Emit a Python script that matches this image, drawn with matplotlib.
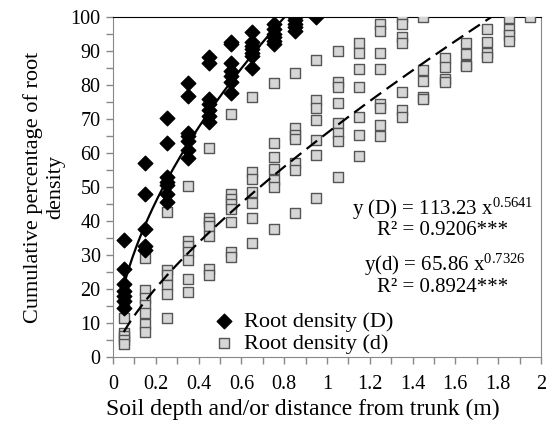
import numpy as np
import matplotlib
matplotlib.use("Agg")
import matplotlib.pyplot as plt
from matplotlib.ticker import MultipleLocator, FuncFormatter

plt.rcParams['font.family'] = ['Liberation Serif', 'DejaVu Serif']
plt.rcParams['mathtext.fontset'] = 'custom'
plt.rcParams['mathtext.rm'] = 'Liberation Serif'
plt.rcParams['mathtext.it'] = 'Liberation Serif:italic'

# soil depth classes (m) and cumulative root density (%) read per class
depth_D = [0.05, 0.15, 0.25, 0.35, 0.45, 0.55, 0.65, 0.75, 0.85, 0.95]
cum_D = [
    [34.5, 26, 21.5, 19.5, 18, 16.5, 14.5],
    [57.2, 48, 37.5, 32.5, 31.5],
    [70.2, 62.8, 53, 51.5, 50.5, 48, 45.5],
    [80.7, 76.8, 66, 65, 63.5, 61, 58.5],
    [88.3, 86.5, 76, 74.5, 72.5, 71, 69],
    [92.5, 92, 86.5, 84, 82.5, 81, 77.5],
    [95.5, 92.5, 91.5, 90.5, 89.5, 88.5, 85],
    [98, 96.5, 95, 94, 93, 92],
    [100, 99, 98, 97, 96],
    [100],
]

# distance from trunk (m)
dist_d = [0.05, 0.15, 0.25, 0.35, 0.45, 0.55, 0.65, 0.75, 0.85, 0.95,
          1.05, 1.15, 1.25, 1.35, 1.45, 1.55, 1.65, 1.75, 1.85, 1.95]
cum_d = [
    [16, 11.5, 7.2, 6.3, 5, 3.7],
    [29, 19.7, 17.3, 15.2, 13, 9.7, 7.5],
    [42.5, 25.5, 24.2, 21.2, 18.5, 11.6],
    [50.2, 34, 32.5, 31, 28.5, 23, 19],
    [61.4, 41, 39.7, 38.5, 35.6, 26, 24.2],
    [71.4, 47.8, 46.5, 45, 43.4, 39.8, 31, 29.5],
    [76.6, 54.5, 52.3, 48.6, 45.2, 40.8, 33.6],
    [80.7, 63, 58.8, 55.2, 52, 50, 37.6],
    [83.6, 67.4, 65.3, 64, 57.2, 55, 42.4],
    [87.2, 75.6, 73.3, 69.7, 63.8, 59.4, 46.7],
    [90, 81, 79.3, 74.8, 68.7, 66, 63.5, 53],
    [92.4, 89.5, 84.7, 79.5, 70.7, 65.3, 59.2],
    [98, 96, 89.5, 84.6, 74.3, 73.1, 68.2, 65],
    [100, 98, 94.2, 92.2, 78, 72.6, 70.7],
    [100, 84.4, 81.3, 76.4, 75.8],
    [87.8, 85.2, 81.8, 80.9],
    [92.2, 89.1, 86, 85.5],
    [96.6, 92.7, 89.5, 88.3],
    [99.6, 96.6, 94.7, 93],
    [100],
]

# power fits y = a x^b
a_D, b_D = 113.23, 0.5641
a_d, b_d = 65.86, 0.7326

xD = np.concatenate([[x] * len(v) for x, v in zip(depth_D, cum_D)])
yD = np.concatenate(cum_D)
xd = np.concatenate([[x] * len(v) for x, v in zip(dist_d, cum_d)])
yd = np.concatenate(cum_d)

fig = plt.figure(figsize=(5.47, 4.24), dpi=100)
ax = fig.add_axes([0.2066, 0.158, 0.7824, 0.802])

sq = ax.scatter(xd, yd, marker='s', s=42, facecolor='#d6d6d6', edgecolor='#555555',
                linewidth=1.0, zorder=3, label='Root density (d)')
dm = ax.scatter(xD, yD, marker='D', s=55, color='black', zorder=4,
                label='Root density (D)')

t = np.linspace(depth_D[0], depth_D[-1], 200)
ax.plot(t, a_D * t ** b_D, color='black', lw=1.6, zorder=5)
t = np.linspace(dist_d[0], dist_d[-1], 300)
ax.plot(t, a_d * t ** b_d, color='black', lw=1.6, dashes=(6, 3), zorder=5)

ax.set_xlim(0, 2)
ax.set_ylim(0, 100)
ax.xaxis.set_major_locator(MultipleLocator(0.2))
ax.xaxis.set_minor_locator(MultipleLocator(0.1))
ax.yaxis.set_major_locator(MultipleLocator(10))
ax.yaxis.set_minor_locator(MultipleLocator(5))
ax.xaxis.set_major_formatter(FuncFormatter(lambda v, p: '%g' % round(v, 1)))
ax.tick_params(which='both', direction='out', length=5, width=1,
               color='#888888', labelsize=14.5)
ax.tick_params(axis='x', pad=8)
ax.tick_params(axis='y', pad=4)

for s in ['left', 'bottom', 'right']:
    ax.spines[s].set_color('#888888')
ax.spines['top'].set_color('black')

ax.set_xlabel('Soil depth and/or distance from trunk (m)', fontsize=17, ha='left')
ax.xaxis.set_label_coords(-0.017, -0.122)
ax.set_ylabel('Cumulative percentage of root\ndensity', fontsize=16)

ax.legend([dm, sq], ['Root density (D)', 'Root density (d)'], loc='lower left',
          bbox_to_anchor=(0.234, 0.01), frameon=False, fontsize=16,
          borderpad=0, borderaxespad=0, handletextpad=0.4,
          labelspacing=0.05, handlelength=1.0)

ax.text(0.77, 0.435, r'y (D) = 113.23 x$^{\mathrm{0.5641}}$', transform=ax.transAxes,
        ha='center', va='center', fontsize=15)
ax.text(0.77, 0.372, 'R² = 0.9206***', transform=ax.transAxes,
        ha='center', va='center', fontsize=15)
ax.text(0.775, 0.272, r'y(d) = 65.86 x$^{\mathrm{0.7326}}$', transform=ax.transAxes,
        ha='center', va='center', fontsize=15)
ax.text(0.77, 0.205, 'R² = 0.8924***', transform=ax.transAxes,
        ha='center', va='center', fontsize=15)

fig.savefig('out.png', dpi=100)
